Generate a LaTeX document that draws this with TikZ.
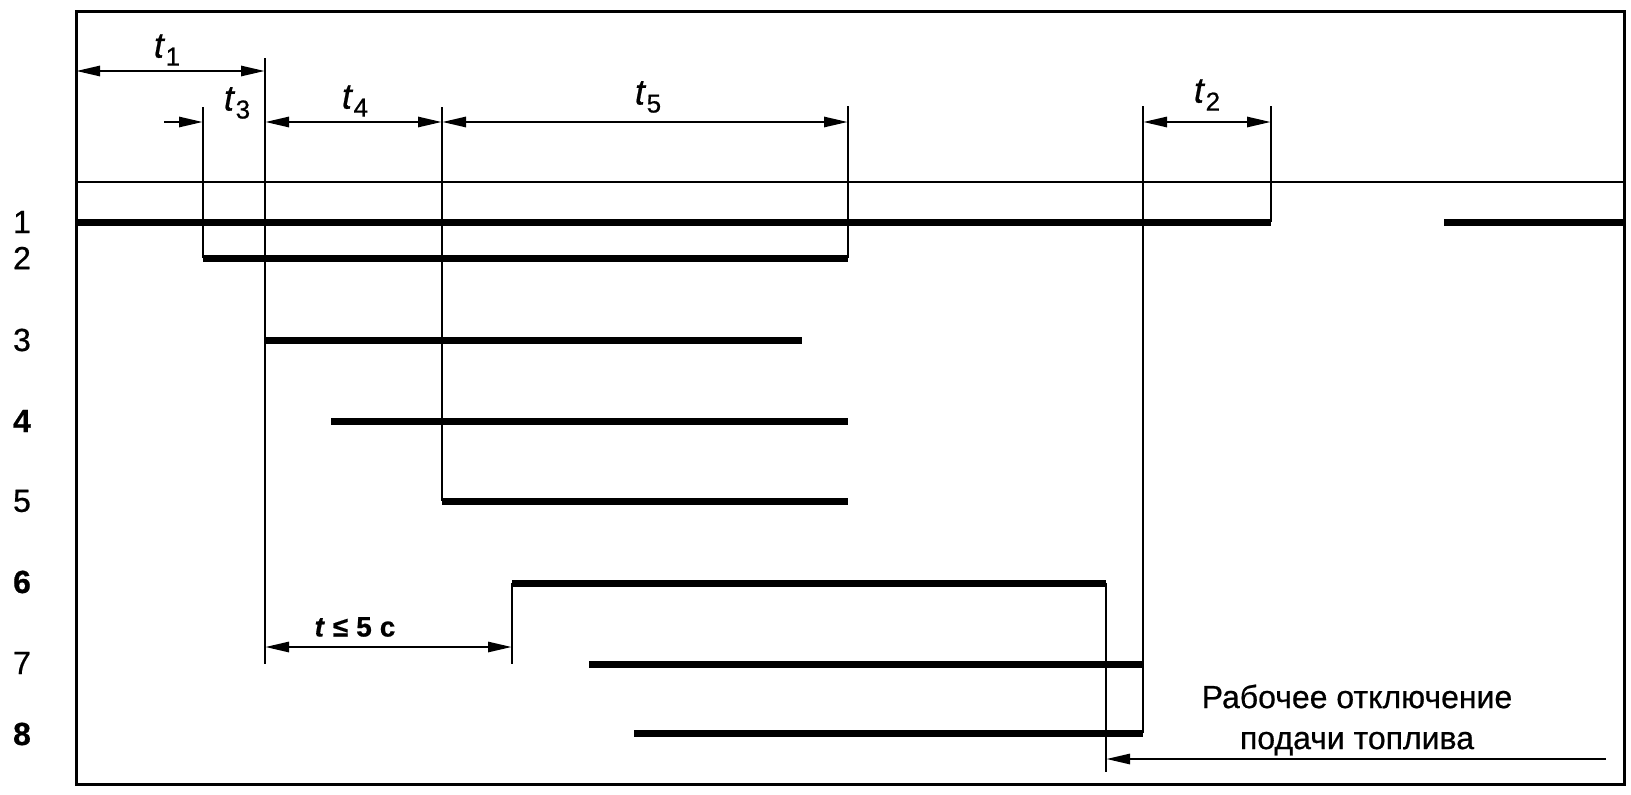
\documentclass[tikz,border=0pt]{standalone}
\usepackage{fontspec}
\setmainfont{Liberation Sans}[FakeBold=0.6]
\usetikzlibrary{arrows.meta}
\newcommand\tlab[1]{\fontsize{36}{36}\selectfont\textit{t}\kern0.5pt\raisebox{-8pt}{\fontsize{26}{26}\selectfont #1}}
\begin{document}
\begin{tikzpicture}[x=1pt,y=-1pt,
  thinln/.style={line width=2.8pt},
  thickln/.style={line width=7pt},
  dim/.style={line width=2.8pt,{Triangle[length=24pt,width=10pt]}-{Triangle[length=24pt,width=10pt]}},
  onearrow/.style={line width=2.8pt,-{Triangle[length=24pt,width=10pt]}},
  rowlab/.style={font=\fontsize{32}{32}\selectfont, anchor=center},
  tl/.style={anchor=center, inner sep=0pt}]
\useasboundingbox (0,0) rectangle (1631,795);
% frame and reference line
\draw[line width=3pt] (76,11) rectangle (1624,784);
\draw[thinln] (76,182) -- (1624,182);
% coordinates
\coordinate (a1) at (76,222);
\coordinate (x203) at (203,107);
\coordinate (x265) at (265,58);
\coordinate (x442) at (442,107);
\coordinate (x848) at (848,106);
\coordinate (x1143) at (1143,106);
\coordinate (x1271) at (1271,106);
% row labels
\node[rowlab] (r1) at (22,222) {1};
\node[rowlab] (r2) at (22,258) {2};
\node[rowlab] (r3) at (22,340) {3};
\node[rowlab] (r4) at (22,421) {\bfseries 4};
\node[rowlab] (r5) at (22,501) {5};
\node[rowlab] (r6) at (22,582) {\bfseries 6};
\node[rowlab] (r7) at (22,663) {7};
\node[rowlab] (r8) at (22,734) {\bfseries 8};
% vertical thin lines
\draw[thinln] (x203) -- (203,258);
\draw[thinln] (x265) -- (265,664);
\draw[thinln] (x442) -- (442,501);
\draw[thinln] (x848) -- (848,258);
\draw[thinln] (x1143) -- (1143,733);
\draw[thinln] (x1271) -- (1271,222);
\draw[thinln] (512,583) -- (512,664);
\draw[thinln] (1106,583) -- (1106,772);
% thick signal lines
\draw[thickln] (a1) -- (1271,222);
\draw[thickln] (1444,222) -- (1624,222);
\draw[thickln] (203,258) -- (848,258);
\draw[thickln] (265,340) -- (802,340);
\draw[thickln] (331,421) -- (848,421);
\draw[thickln] (442,501) -- (848,501);
\draw[thickln] (512,583) -- (1106,583);
\draw[thickln] (589,664) -- (1143,664);
\draw[thickln] (634,733) -- (1143,733);
% dimension arrows
\draw[dim] (76,71) -- (265,71);
\draw[onearrow] (164,122) -- (203,122);
\draw[dim] (265,122) -- (442,122);
\draw[dim] (442,122) -- (848,122);
\draw[dim] (1143,122) -- (1271,122);
\draw[dim] (265,647) -- (512,647);
\draw[onearrow] (1606,759) -- (1106,759);
% labels
\node[tl] (lt1) at (167,50) {\tlab{1}};
\node[tl] (lt3) at (237,103) {\tlab{3}};
\node[tl] (lt4) at (355,101) {\tlab{4}};
\node[tl] (lt5) at (648,97) {\tlab{5}};
\node[tl] (lt2) at (1207,95) {\tlab{2}};
\node[tl] (lt) at (355,627) {\fontsize{28}{28}\selectfont\bfseries\textit{t}\hspace{8pt}≤\hspace{8pt}5\hspace{8pt}с};
\node[align=center, font=\fontsize{32}{41}\selectfont, inner sep=0pt] (txt) at (1357,720) {Рабочее отключение\\подачи топлива};
\end{tikzpicture}
\end{document}
